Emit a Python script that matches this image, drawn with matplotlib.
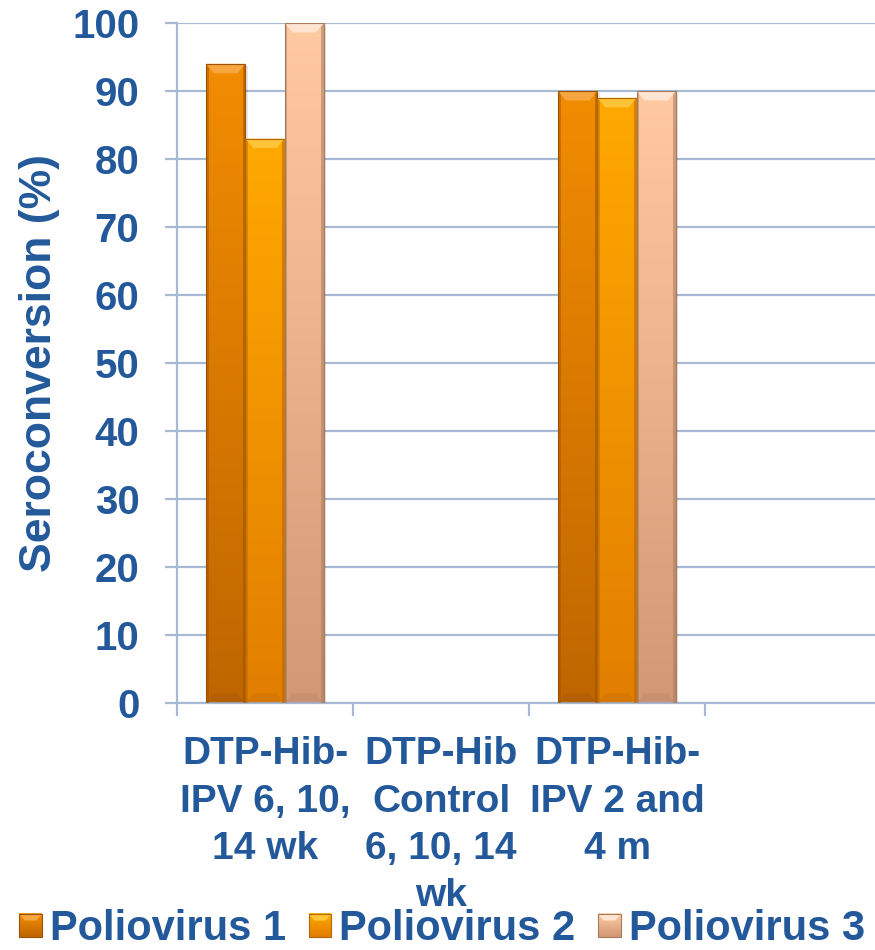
import numpy as np
import matplotlib
matplotlib.use("Agg")
import matplotlib.pyplot as plt
from matplotlib.patches import Rectangle, Polygon
from matplotlib.legend_handler import HandlerBase
from matplotlib.colors import to_rgb, LinearSegmentedColormap

# ---- data -------------------------------------------------------------
categories = [
    "DTP-Hib-\nIPV 6, 10,\n14 wk",
    "DTP-Hib\nControl\n6, 10, 14\nwk",
    "DTP-Hib-\nIPV 2 and\n4 m",
    "",
]
series_names = ["Poliovirus 1", "Poliovirus 2", "Poliovirus 3"]
polio1 = [94, 0, 90, 0]
polio2 = [83, 0, 89, 0]
polio3 = [100, 0, 90, 0]
y_ticks = [0, 10, 20, 30, 40, 50, 60, 70, 80, 90, 100]

# ---- styling ----------------------------------------------------------
TEXT = "#23599A"
GRID = "#A7B9D5"
# (top colour, bottom colour, bevel highlight, edge shade)
palette = [
    ("#F28C00", "#BF6600", "#F7A743", "#9A5200"),
    ("#FFA800", "#E27E00", "#FFC53A", "#B56500"),
    ("#FFC9A2", "#D39876", "#FFE6D4", "#A77A5E"),
]

plt.rcParams["font.family"] = ["Liberation Sans", "DejaVu Sans"]
plt.rcParams["font.weight"] = "bold"

fig = plt.figure(figsize=(8.75, 9.5), dpi=100)
ax = fig.add_axes([177 / 875, 247 / 950, 704 / 875, 680 / 950])

values = [polio1, polio2, polio3]
n_cat = len(categories)
bw = 0.2233
xc = np.arange(n_cat) + 0.5


def gradient_bar(ax, x0, w, h, cols):
    top, bot, hi, edge = cols
    if h <= 0:
        return
    # soft drop shadow
    ax.add_patch(Rectangle((x0 + w * 0.06, 0), w, h - 0.3, facecolor="#000000",
                           alpha=0.10, edgecolor="none", zorder=1.5))
    rect = Rectangle((x0, 0), w, h, facecolor="none", edgecolor="none")
    ax.add_patch(rect)
    cmap = LinearSegmentedColormap.from_list("g", [bot, top])
    grad = np.linspace(0, 1, 256).reshape(-1, 1)
    im = ax.imshow(grad, cmap=cmap, aspect="auto", origin="lower",
                   extent=(x0, x0 + w, 0, h), zorder=2, interpolation="bicubic")
    im.set_clip_path(rect)
    # shaded side edges
    ew = w * 0.07
    ax.add_patch(Rectangle((x0, 0), ew, h, facecolor=edge, alpha=0.45,
                           edgecolor="none", zorder=3))
    ax.add_patch(Rectangle((x0 + w - ew, 0), ew, h, facecolor=edge, alpha=0.55,
                           edgecolor="none", zorder=3))
    # bevelled top
    bh = 1.4
    d = w * 0.2
    ax.add_patch(Polygon([(x0, h), (x0 + w, h), (x0 + w - d, h - bh),
                          (x0 + d, h - bh)], closed=True, facecolor=hi,
                         edgecolor="none", alpha=0.95, zorder=4))
    # bevelled bottom
    ax.add_patch(Polygon([(x0, 0), (x0 + w, 0), (x0 + w - d, bh),
                          (x0 + d, bh)], closed=True, facecolor=edge,
                         edgecolor="none", alpha=0.25, zorder=4))
    ax.add_patch(Rectangle((x0, 0), w, h, facecolor="none", edgecolor=edge,
                           linewidth=0.8, zorder=5))


for i, (vals, cols) in enumerate(zip(values, palette)):
    for j, v in enumerate(vals):
        x0 = xc[j] + (i - 1.5) * bw
        gradient_bar(ax, x0, bw, v, cols)

ax.set_xlim(0, n_cat)
ax.set_ylim(0, 100)
ax.set_yticks(y_ticks)
ax.set_yticklabels([str(t) for t in y_ticks])
ax.yaxis.grid(True, color=GRID, linewidth=1.6, zorder=0)
ax.set_axisbelow(True)

ax.set_xticks(np.arange(n_cat + 1))
ax.set_xticklabels([])
ax.set_xticks(xc, minor=True)
ax.set_xticklabels(categories, minor=True, fontsize=28, fontweight="bold",
                   color=TEXT, linespacing=1.4)
ax.tick_params(axis="x", which="major", length=9, width=1.6, color=GRID,
               direction="out")
ax.tick_params(axis="x", which="minor", length=0, pad=24)
ax.tick_params(axis="y", length=9, width=1.6, color=GRID, direction="out",
               pad=18, labelsize=29, labelcolor=TEXT)
for lab in ax.get_yticklabels():
    lab.set_fontweight("bold")

for s in ["top", "right"]:
    ax.spines[s].set_visible(False)
for s in ["left", "bottom"]:
    ax.spines[s].set_color(GRID)
    ax.spines[s].set_linewidth(1.6)

fig.text(40 / 875, 1 - 363 / 950, "Seroconversion (%)", rotation=90,
         ha="center", va="center", fontsize=32, fontweight="bold", color=TEXT)


class GradientHandle(HandlerBase):
    def __init__(self, cols):
        super().__init__()
        self.cols = cols

    def create_artists(self, legend, orig_handle, xdescent, ydescent,
                       width, height, fontsize, trans):
        top, bot, hi, edge = self.cols
        arts = []
        n = 12
        c0 = np.array(to_rgb(bot))
        c1 = np.array(to_rgb(top))
        for k in range(n):
            f = k / (n - 1)
            arts.append(Rectangle((-xdescent, -ydescent + height * k / n),
                                  width, height / n + 0.3,
                                  facecolor=c0 + (c1 - c0) * f,
                                  edgecolor="none", transform=trans))
        d = width * 0.25
        bh = height * 0.3
        y1 = -ydescent + height
        arts.append(Polygon([(-xdescent, y1), (-xdescent + width, y1),
                             (-xdescent + width - d, y1 - bh),
                             (-xdescent + d, y1 - bh)], closed=True,
                            facecolor=hi, edgecolor="none", transform=trans))
        arts.append(Rectangle((-xdescent, -ydescent), width, height,
                              facecolor="none", edgecolor=edge, linewidth=0.8,
                              transform=trans))
        return arts


handles = [Rectangle((0, 0), 1, 1) for _ in series_names]
handler_map = {h: GradientHandle(c) for h, c in zip(handles, palette)}
leg = fig.legend(handles, series_names, handler_map=handler_map,
                 loc="center", bbox_to_anchor=(442 / 875, 1 - 929 / 950), ncol=3,
                 frameon=False, prop={"size": 30, "weight": "bold"},
                 handlelength=0.55, handleheight=0.48, handletextpad=0.19,
                 columnspacing=0.54, borderpad=0, borderaxespad=0)
for t in leg.get_texts():
    t.set_color(TEXT)

fig.savefig("out.png", dpi=100)
